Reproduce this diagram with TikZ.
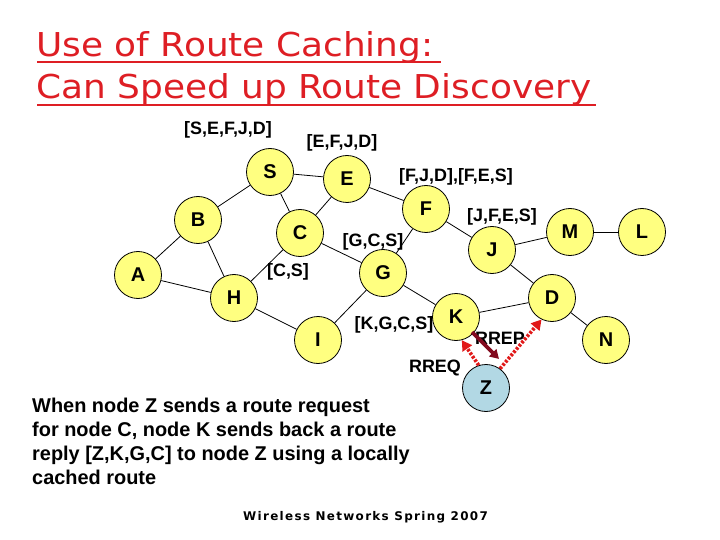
\documentclass[tikz,border=0pt]{standalone}
\usepackage{fontspec}
\setmainfont{Liberation Sans}
\newfontfamily\titlefont{DejaVu Sans}
\newfontfamily\footfont[LetterSpace=11]{DejaVu Sans}
\usetikzlibrary{arrows.meta}
\definecolor{titlered}{RGB}{222,30,36}
\definecolor{nodeyellow}{RGB}{255,255,128}
\definecolor{zblue}{RGB}{178,216,228}
\definecolor{dotred}{RGB}{225,25,25}
\definecolor{darkred}{RGB}{130,10,30}
\tikzset{
  netnode/.style={circle, draw=black, line width=0.8bp, fill=nodeyellow, minimum size=47bp, inner sep=0pt, font=\fontsize{20}{24}\selectfont\bfseries},
  znode/.style={netnode, fill=zblue},
  edge/.style={draw=black, line width=0.8bp},
  routelabel/.style={inner sep=0pt, font=\fontsize{18}{21}\selectfont\bfseries},
  bodyline/.style={anchor=base west, inner sep=0pt, font=\fontsize{20}{24}\selectfont\bfseries},
  titleline/.style={anchor=base west, inner sep=0pt, text=titlered},
  uline/.style={draw=titlered, line width=2.6bp},
  rreqarrow/.style={draw=dotred, line width=3.6bp, dash pattern=on 2.6bp off 1.6bp, -{Triangle[length=10bp,width=11bp,fill=dotred]}},
  reparrow/.style={draw=darkred, line width=3.8bp, -{Triangle[length=9bp,width=10bp]}}
}
\begin{document}
\begin{tikzpicture}[x=1bp,y=-1bp]
\useasboundingbox (0,0) rectangle (720,540);
\fill[white] (0,0) rectangle (720,540);
% title
\node[titleline] (t1) at (36,57) {\scalebox{1.092}[1]{\titlefont\fontsize{33}{39}\selectfont Use of Route Caching:}};
\node[titleline] (t2) at (36,99) {\scalebox{1.092}[1]{\titlefont\fontsize{33}{39}\selectfont Can Speed up Route Discovery}};
\coordinate (u1a) at (37,62); \coordinate (u1b) at (441,62);
\coordinate (u2a) at (37,105); \coordinate (u2b) at (596,105);
\draw[uline] (u1a) -- (u1b);
\draw[uline] (u2a) -- (u2b);
% nodes
\node[netnode] (S) at (270,172) {S};
\node[netnode] (E) at (347,179) {E};
\node[netnode] (B) at (198,220) {B};
\node[netnode] (C) at (300,233) {C};
\node[netnode] (A) at (138,275) {A};
\node[netnode] (H) at (234,298) {H};
\node[netnode] (G) at (383,273) {G};
\node[netnode] (F) at (426,209) {F};
\node[netnode] (J) at (492,250) {J};
\node[netnode] (M) at (570,232) {M};
\node[netnode] (L) at (642,232) {L};
\node[netnode] (D) at (552,298) {D};
\node[netnode] (K) at (456,317) {K};
\node[netnode] (N) at (606,340) {N};
\node[netnode] (I) at (318,340) {I};
\node[znode] (Z) at (486,388) {Z};
% edges
\draw[edge] (S) -- (E);
\draw[edge] (S) -- (B);
\draw[edge] (S) -- (C);
\draw[edge] (E) -- (C);
\draw[edge] (E) -- (F);
\draw[edge] (B) -- (A);
\draw[edge] (B) -- (H);
\draw[edge] (A) -- (H);
\draw[edge] (H) -- (C);
\draw[edge] (H) -- (I);
\draw[edge] (C) -- (G);
\draw[edge] (F) -- (G);
\draw[edge] (F) -- (J);
\draw[edge] (J) -- (M);
\draw[edge] (M) -- (L);
\draw[edge] (J) -- (D);
\draw[edge] (G) -- (K);
\draw[edge] (G) -- (I);
\draw[edge] (K) -- (D);
\draw[edge] (D) -- (N);
% route labels
\node[routelabel] (l1) at (228,130) {[S,E,F,J,D]};
\node[routelabel] (l2) at (342,143) {[E,F,J,D]};
\node[routelabel] (l3) at (456,177) {[F,J,D],[F,E,S]};
\node[routelabel] (l4) at (502,217) {[J,F,E,S]};
\node[routelabel] (l5) at (373,242) {[G,C,S]};
\node[routelabel] (l6) at (288,272) {[C,S]};
\node[routelabel] (l7) at (394,325) {[K,G,C,S]};
\node[routelabel] (rrep) at (500,338) {RREP};
\node[routelabel] (rreq) at (435,368) {RREQ};
% request / reply arrows
\draw[rreqarrow] (Z.108) -- (K.284);
\draw[rreqarrow] (Z.54) -- (D.244);
\coordinate (rrepstart) at (472,332);
\coordinate (rrepend) at (499,359);
\draw[reparrow] (rrepstart) -- (rrepend);
% body text
\node[bodyline] (b1) at (32,412) {When node Z sends a route request};
\node[bodyline] (b2) at (32,436) {for node C, node K sends back a route};
\node[bodyline] (b3) at (32,460) {reply [Z,K,G,C] to node Z using a locally};
\node[bodyline] (b4) at (32,484) {cached route};
% footer
\node[anchor=base west, inner sep=0pt] (foot) at (243,520) {\footfont\fontsize{12}{14}\selectfont\bfseries Wireless Networks Spring 2007};
\end{tikzpicture}
\end{document}
